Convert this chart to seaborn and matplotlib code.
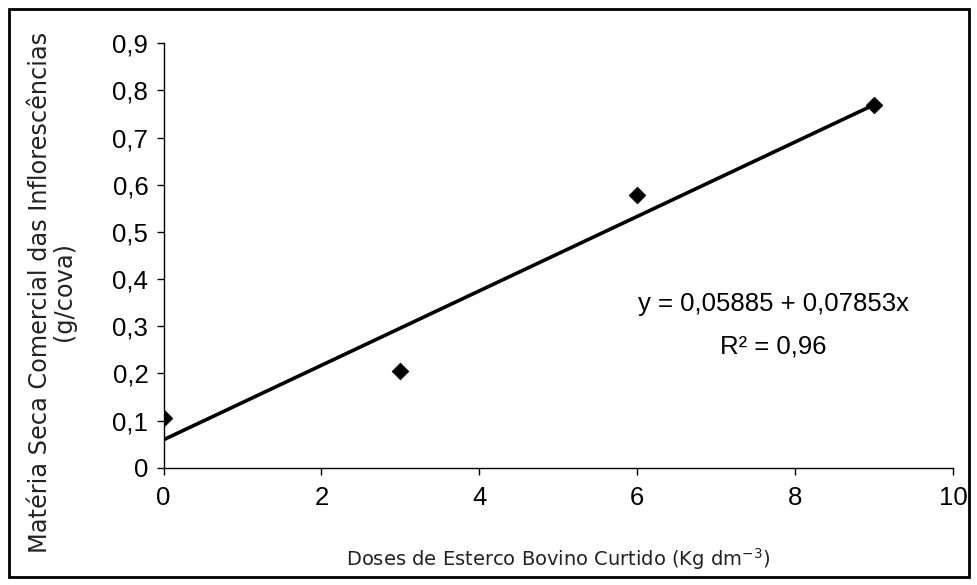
import matplotlib
matplotlib.use("Agg")
import matplotlib.pyplot as plt
import seaborn as sns
import pandas as pd
from matplotlib.patches import Rectangle

doses = [0, 3, 6, 9]
materia_seca = [0.105, 0.205, 0.578, 0.77]
x_ticks = [0, 2, 4, 6, 8, 10]
y_ticks = [0, 0.1, 0.2, 0.3, 0.4, 0.5, 0.6, 0.7, 0.8, 0.9]
y_tick_labels = ["0", "0,1", "0,2", "0,3", "0,4", "0,5", "0,6", "0,7", "0,8", "0,9"]
equation = "y = 0,05885 + 0,07853x"
r2_text = "R² = 0,96"

df = pd.DataFrame({"dose": doses, "ms": materia_seca})

sns.set_theme(style="white")
plt.rcParams["font.family"] = ["DejaVu Sans"]

fig = plt.figure(figsize=(9.77, 5.85), dpi=100)
ax = fig.add_axes([0.1674, 0.2005, 0.9755 - 0.1674, 0.926 - 0.2005])

sns.regplot(data=df, x="dose", y="ms", ci=None, truncate=True, ax=ax,
            scatter=False, line_kws={"color": "black", "lw": 2.6})
sns.scatterplot(data=df, x="dose", y="ms", ax=ax, marker="D", s=70,
                color="black", edgecolor="black", zorder=5)

ax.set_xlim(0, 10)
ax.set_ylim(0, 0.9)
ax.set_xticks(x_ticks)
ax.set_xticklabels([str(t) for t in x_ticks], fontfamily="Liberation Sans", fontsize=18.5)
ax.set_yticks(y_ticks)
ax.set_yticklabels(y_tick_labels, fontfamily="Liberation Sans", fontsize=18.5)

for s in ["top", "right"]:
    ax.spines[s].set_visible(False)
for s in ["left", "bottom"]:
    ax.spines[s].set_color("black")
    ax.spines[s].set_linewidth(1.0)
ax.tick_params(axis="both", direction="out", length=5, width=1.0, color="black",
               bottom=True, left=True, colors="black")
ax.tick_params(axis="y", pad=6)
ax.tick_params(axis="x", pad=8)

ax.set_xlabel("Doses de Esterco Bovino Curtido (Kg dm$^{-3}$)", fontsize=14,
              color="#222222")
ax.set_ylabel("Matéria Seca Comercial das Inflorescências\n(g/cova)", fontsize=17.3,
              color="#222222", linespacing=1.0)
ax.xaxis.set_label_coords(0.5, -0.185)
ax.yaxis.set_label_coords(-0.111, 0.414)

ax.text(7.72, 0.347, equation, fontfamily="Liberation Sans", fontsize=18.5,
        ha="center", va="center", color="black")
ax.text(7.72, 0.258, r2_text, fontfamily="Liberation Sans", fontsize=18.5,
        ha="center", va="center", color="black")

fig.patches.append(Rectangle((9 / 977, 1 - 577 / 585), (969 - 9) / 977, (577 - 9) / 585,
                             transform=fig.transFigure, fill=False, edgecolor="black",
                             linewidth=2.0))

fig.savefig("out.png", dpi=100, facecolor="white")
